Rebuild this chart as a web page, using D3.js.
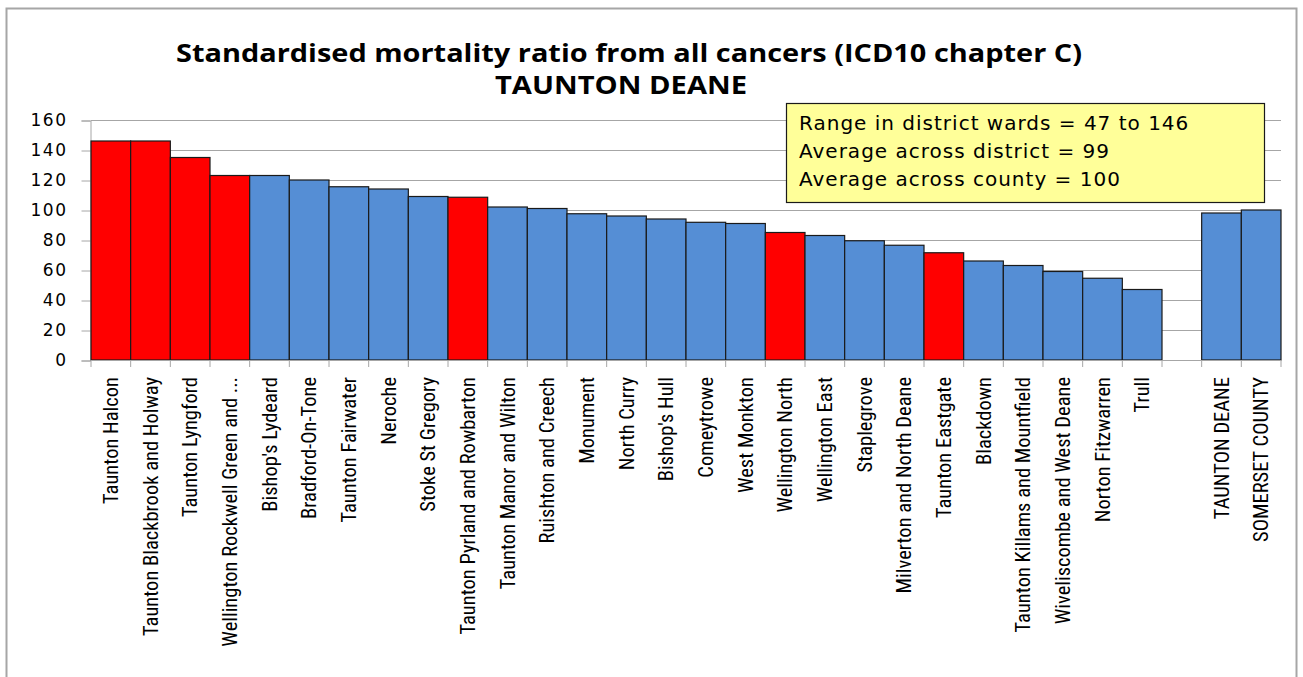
<!DOCTYPE html>
<html>
<head>
<meta charset="utf-8">
<script src="https://cdn.jsdelivr.net/npm/d3@7"></script>
<style>
  body { margin: 0; background: #fff; }
  svg text { fill: #000; }
</style>
</head>
<body>
<svg id="chart" width="1303" height="677"></svg>
<script>
// ward names, in the order shown (blank slot before the two totals)
var wards = ["Taunton Halcon", "Taunton Blackbrook and Holway", "Taunton Lyngford",
  "Wellington Rockwell Green and ...", "Bishop's Lydeard", "Bradford-On-Tone",
  "Taunton Fairwater", "Neroche", "Stoke St Gregory", "Taunton Pyrland and Rowbarton",
  "Taunton Manor and Wilton", "Ruishton and Creech", "Monument", "North Curry",
  "Bishop's Hull", "Comeytrowe", "West Monkton", "Wellington North", "Wellington East",
  "Staplegrove", "Milverton and North Deane", "Taunton Eastgate", "Blackdown",
  "Taunton Killams and Mountfield", "Wiveliscombe and West Deane", "Norton Fitzwarren",
  "Trull", "", "TAUNTON DEANE", "SOMERSET COUNTY"];

var smr = [146, 146, 135, 123, 123, 120, 115.5, 114, 109, 108.5, 102, 101, 97.5, 96,
  94, 91.8, 91, 85, 83, 79.5, 76.5, 71.5, 66, 63, 59, 54.5, 47, null, 98, 100];

// wards flagged red in the source chart
var flagged = ["Taunton Halcon", "Taunton Blackbrook and Holway", "Taunton Lyngford",
  "Wellington Rockwell Green and ...", "Taunton Pyrland and Rowbarton",
  "Wellington North", "Taunton Eastgate"];

var yTicks = [0, 20, 40, 60, 80, 100, 120, 140, 160];

var infoLines = ["Range in district wards = 47 to 146",
  "Average across district = 99",
  "Average across county = 100"];

var svg = d3.select("#chart");

var plotLeft = 91, plotRight = 1281, plotTop = 120, plotBottom = 360;

// outer frame
svg.append("rect")
  .attr("x", 6.5).attr("y", 8.5)
  .attr("width", 1290).attr("height", 700)
  .attr("fill", "none")
  .attr("stroke", "#a6a6a6")
  .attr("stroke-width", 2);

var x = d3.scaleBand()
  .domain(d3.range(wards.length))
  .range([plotLeft, plotRight])
  .padding(0);

var y = d3.scaleLinear()
  .domain([0, 160])
  .range([plotBottom, plotTop]);

// gridlines
svg.append("g")
  .selectAll("line")
  .data(yTicks.filter(function(d) { return d > 0; }))
  .enter().append("line")
  .attr("x1", plotLeft).attr("x2", plotRight)
  .attr("y1", function(d) { return y(d) + 0.5; })
  .attr("y2", function(d) { return y(d) + 0.5; })
  .attr("stroke", "#a6a6a6")
  .attr("stroke-width", 1);

// y axis
var yAxis = svg.append("g")
  .attr("transform", "translate(" + (plotLeft - 0.5) + ",0.5)")
  .call(d3.axisLeft(y).tickValues(yTicks).tickSize(9).tickPadding(14));
yAxis.select(".domain").attr("stroke", "#a6a6a6");
yAxis.selectAll(".tick line").attr("stroke", "#a6a6a6");
yAxis.selectAll("text")
  .style("font-family", "'DejaVu Sans', Verdana, sans-serif")
  .style("font-size", "17px")
  .style("letter-spacing", "1.5px")
  .attr("fill", "#000");

// bars
svg.append("g")
  .selectAll("rect")
  .data(smr.map(function(v, i) { return {name: wards[i], value: v, i: i}; })
    .filter(function(d) { return d.value != null; }))
  .enter().append("rect")
  .attr("x", function(d) { return x(d.i); })
  .attr("y", function(d) { return y(d.value); })
  .attr("width", x.bandwidth())
  .attr("height", function(d) { return y(0) - y(d.value); })
  .attr("fill", function(d) {
    return flagged.indexOf(d.name) >= 0 ? "#ff0000" : "#558ed5";
  })
  .attr("stroke", "#1a1a1a")
  .attr("stroke-width", 1.2);

// x axis line + ticks at category boundaries
var xg = svg.append("g");
xg.append("line")
  .attr("x1", plotLeft).attr("x2", plotRight)
  .attr("y1", plotBottom + 0.5).attr("y2", plotBottom + 0.5)
  .attr("stroke", "#a6a6a6");
xg.selectAll("line.tk")
  .data(d3.range(wards.length + 1))
  .enter().append("line")
  .attr("class", "tk")
  .attr("x1", function(i) { return plotLeft + i * x.step(); })
  .attr("x2", function(i) { return plotLeft + i * x.step(); })
  .attr("y1", plotBottom)
  .attr("y2", plotBottom + 7)
  .attr("stroke", "#a6a6a6");

// rotated category labels
xg.selectAll("text")
  .data(wards)
  .enter().append("text")
  .attr("transform", function(d, i) {
    return "translate(" + (x(i) + x.bandwidth() / 2 + 7) + "," + (plotBottom + 17) + ") rotate(-90)";
  })
  .attr("text-anchor", "end")
  .style("font-family", "'Liberation Sans Narrow', 'Roboto Condensed', sans-serif")
  .style("font-size", "20.5px")
  .text(function(d) { return d; });

// title
svg.append("text")
  .attr("x", 629).attr("y", 62)
  .attr("text-anchor", "middle")
  .attr("textLength", 906)
  .attr("lengthAdjust", "spacingAndGlyphs")
  .style("font-family", "'Open Sans', sans-serif")
  .style("font-weight", "bold")
  .style("font-size", "25px")
  .text("Standardised mortality ratio from all cancers (ICD10 chapter C)");
svg.append("text")
  .attr("x", 621).attr("y", 94)
  .attr("text-anchor", "middle")
  .attr("textLength", 252)
  .attr("lengthAdjust", "spacingAndGlyphs")
  .style("font-family", "'Open Sans', sans-serif")
  .style("font-weight", "bold")
  .style("font-size", "25px")
  .text("TAUNTON DEANE");

// info box
var box = svg.append("g");
box.append("rect")
  .attr("x", 786.5).attr("y", 103.5)
  .attr("width", 478).attr("height", 99)
  .attr("fill", "#ffff99")
  .attr("stroke", "#1a1a1a")
  .attr("stroke-width", 1.2);
box.selectAll("text")
  .data(infoLines)
  .enter().append("text")
  .attr("x", 799)
  .attr("y", function(d, i) { return 130 + i * 28; })
  .style("font-family", "'DejaVu Sans', Verdana, sans-serif")
  .style("font-size", "20px")
  .style("letter-spacing", "1px")
  .text(function(d) { return d; });
</script>
</body>
</html>
